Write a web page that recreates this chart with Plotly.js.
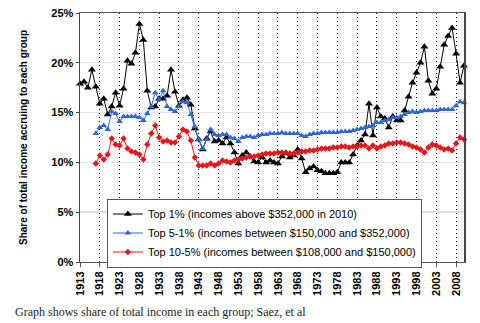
<!DOCTYPE html>
<html><head><meta charset="utf-8">
<script src="https://cdn.plot.ly/plotly-3.0.1.min.js"></script>
<style>html,body{margin:0;padding:0;background:#fff}#chart{width:480px;height:323px}</style>
</head><body><div id="chart"></div>
<script>
var years = [1913,1914,1915,1916,1917,1918,1919,1920,1921,1922,
1923,1924,1925,1926,1927,1928,1929,1930,1931,1932,
1933,1934,1935,1936,1937,1938,1939,1940,1941,1942,
1943,1944,1945,1946,1947,1948,1949,1950,1951,1952,
1953,1954,1955,1956,1957,1958,1959,1960,1961,1962,
1963,1964,1965,1966,1967,1968,1969,1970,1971,1972,
1973,1974,1975,1976,1977,1978,1979,1980,1981,1982,
1983,1984,1985,1986,1987,1988,1989,1990,1991,1992,
1993,1994,1995,1996,1997,1998,1999,2000,2001,2002,
2003,2004,2005,2006,2007,2008,2009,2010];

var top1 = [17.9,18.1,17.5,19.3,17.6,15.9,16.4,14.8,15.6,17.0,
15.7,17.4,20.2,19.9,21.0,23.9,22.3,17.2,15.5,15.6,
16.4,16.4,16.7,19.3,17.1,15.7,16.3,16.5,15.8,13.4,
12.3,11.3,12.4,13.1,12.1,12.2,11.9,12.5,11.9,11.0,
9.9,10.7,11.0,10.6,10.1,10.0,10.5,10.0,10.2,10.0,
9.9,10.6,10.9,10.5,10.7,11.3,10.4,9.0,9.4,9.6,
9.2,9.1,8.9,8.9,8.9,9.0,10.0,10.0,10.0,10.8,
11.7,12.2,12.8,15.9,12.7,15.5,14.6,14.4,13.5,14.6,
14.2,14.2,15.2,16.6,18.0,19.0,20.0,21.6,18.2,16.9,
17.4,19.6,21.8,22.7,23.5,20.9,18.0,19.7];

var years2 = [1917,1918,1919,1920,1921,1922,
1923,1924,1925,1926,1927,1928,1929,1930,1931,1932,
1933,1934,1935,1936,1937,1938,1939,1940,1941,1942,
1943,1944,1945,1946,1947,1948,1949,1950,1951,1952,
1953,1954,1955,1956,1957,1958,1959,1960,1961,1962,
1963,1964,1965,1966,1967,1968,1969,1970,1971,1972,
1973,1974,1975,1976,1977,1978,1979,1980,1981,1982,
1983,1984,1985,1986,1987,1988,1989,1990,1991,1992,
1993,1994,1995,1996,1997,1998,1999,2000,2001,2002,
2003,2004,2005,2006,2007,2008,2009,2010];

var top5to1 = [12.9,13.5,13.7,13.3,15.1,14.9,
14.1,14.6,14.6,14.6,14.6,14.5,14.2,14.9,15.6,17.0,
16.3,17.2,15.6,15.3,15.1,15.6,16.1,16.0,14.8,13.6,
12.3,11.4,12.3,13.3,12.8,12.7,12.8,12.8,12.5,12.4,
12.1,12.5,12.6,12.6,12.5,12.7,12.8,12.8,12.9,12.9,
12.9,13.0,12.9,12.9,12.9,12.9,12.7,12.6,12.8,12.9,
12.9,13.0,13.0,13.0,13.0,13.0,13.1,13.1,13.1,13.2,
13.3,13.4,13.5,13.6,13.7,14.0,14.0,14.2,14.3,14.5,
14.5,14.6,14.8,15.0,15.1,15.0,15.1,15.2,15.2,15.2,
15.2,15.3,15.3,15.3,15.3,15.7,16.1,16.0];

var top10to5 = [9.9,10.7,10.3,10.8,12.4,11.8,
11.7,12.4,11.4,11.1,11.0,10.8,10.3,11.8,12.9,13.7,
12.5,12.1,12.2,12.0,12.0,12.6,13.3,13.1,12.2,10.5,
9.7,9.7,9.7,9.9,9.7,9.9,10.2,10.1,10.0,10.2,
10.3,10.4,10.5,10.6,10.6,10.7,10.8,10.9,10.9,10.9,
11.0,11.0,11.0,10.9,10.9,11.0,11.1,11.1,11.2,11.2,
11.3,11.4,11.4,11.4,11.5,11.5,11.6,11.6,11.5,11.6,
11.6,11.7,11.7,11.4,11.7,11.4,11.6,11.7,11.9,11.9,
12.0,12.0,11.9,11.8,11.6,11.5,11.3,11.0,11.5,11.8,
11.7,11.5,11.3,11.4,11.2,11.9,12.5,12.3];

var seriesNames = ["Top 1% (incomes above $352,000 in 2010)",
  "Top 5-1% (incomes between $150,000 and $352,000)",
  "Top 10-5% (incomes between $108,000 and $150,000)"];
var xTicks = [1913,1918,1923,1928,1933,1938,1943,1948,1953,1958,1963,1968,1973,1978,1983,1988,1993,1998,2003,2008];
var yTicks = [0,5,10,15,20,25];
var yTickText = ["0%","5%","10%","15%","20%","25%"];

var FONT = "Arial, 'Liberation Sans', sans-serif";
var traces = [
  {x: years, y: top1, name: seriesNames[0], type: "scatter", mode: "lines+markers", cliponaxis: false,
   line: {color: "#000000", width: 1}, marker: {symbol: "triangle-up", size: 7, color: "#000000"}},
  {x: years2, y: top5to1, name: seriesNames[1], type: "scatter", mode: "lines+markers", cliponaxis: false,
   line: {color: "#2f66d6", width: 1}, marker: {symbol: "triangle-up", size: 6, color: "#2f66d6"}},
  {x: years2, y: top10to5, name: seriesNames[2], type: "scatter", mode: "lines+markers", cliponaxis: false,
   line: {color: "#e01a1a", width: 1}, marker: {symbol: "diamond", size: 5, color: "#e01a1a"}}
];

var layout = {
  width: 480, height: 323,
  margin: {l: 80, r: 16, t: 13, b: 61},
  paper_bgcolor: "#ffffff", plot_bgcolor: "#ffffff",
  font: {family: FONT, color: "#000", size: 11},
  showlegend: true,
  legend: {x: 0.07, y: 0.255, xanchor: "left", yanchor: "top",
    bgcolor: "#ffffff", bordercolor: "#555", borderwidth: 1,
    font: {family: FONT, size: 11, color: "#000"}, tracegroupgap: 0},
  xaxis: {range: [1913, 2010], tickmode: "array", tickvals: xTicks, ticktext: xTicks.map(String),
    tickangle: -90, tickfont: {family: FONT, size: 11, color: "#000", weight: "bold"},
    showgrid: true, gridcolor: "#111", griddash: "1px,3px", gridwidth: 1,
    showline: true, linecolor: "#555", linewidth: 1, mirror: true,
    ticks: "outside", ticklen: 4, tickcolor: "#555", zeroline: false, fixedrange: true},
  yaxis: {range: [0, 25], tickmode: "array", tickvals: yTicks, ticktext: yTickText,
    tickfont: {family: FONT, size: 11, color: "#000", weight: "bold"},
    showgrid: true, gridcolor: "#e4e4e4", gridwidth: 1,
    showline: true, linecolor: "#444", linewidth: 1.5, mirror: true,
    ticks: "outside", ticklen: 3, tickcolor: "#444", zeroline: false,
    title: {text: "Share of total income accruing to each group", standoff: 22,
      font: {family: FONT, size: 10, color: "#000", weight: "bold"}}, fixedrange: true},
  shapes: [{type: "line", xref: "paper", yref: "y", x0: 0, x1: 1, y0: 5, y1: 5,
    line: {color: "#888", width: 1}, layer: "below"}],
  annotations: [{xref: "paper", yref: "paper", x: -0.175, y: -0.2, xanchor: "left", yanchor: "middle",
    showarrow: false, text: "Graph shows share of total income in each group; Saez, et al",
    font: {family: "'Liberation Serif', 'DejaVu Serif', serif", size: 12, color: "#222"}}]
};
Plotly.newPlot("chart", traces, layout, {displayModeBar: false, staticPlot: true});
</script>
</body></html>
